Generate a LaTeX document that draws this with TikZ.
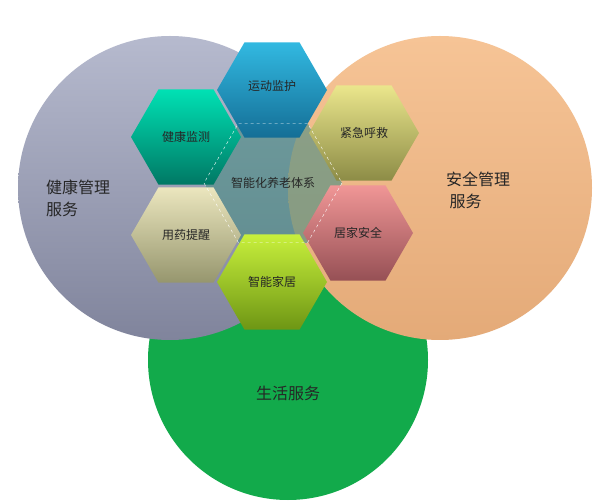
\documentclass[tikz,border=0pt]{standalone}
\usepackage{fontspec}
\setmainfont{Noto Sans CJK SC}
\usetikzlibrary{shapes.geometric}
\begin{document}
\begin{tikzpicture}[x=1pt,y=-1pt,
  hexa/.style={regular polygon,regular polygon sides=6,minimum size=110pt,inner sep=0pt,font=\fontsize{12}{14}\selectfont,text=black!85},
  big/.style={font=\fontsize{16}{22}\selectfont,text=black!85,align=left}]
\useasboundingbox (0,0) rectangle (600,502);
\fill[white] (0,0) rectangle (600,502);
\fill[fill={rgb,255:red,18;green,170;blue,75}] (288,360) circle (140pt);
\shade[top color={rgb,255:red,182;green,186;blue,206}, bottom color={rgb,255:red,128;green,132;blue,156}] (170,188) circle (152pt);
\shade[top color={rgb,255:red,246;green,196;blue,150}, bottom color={rgb,255:red,228;green,170;blue,120}] (440,188) circle (152pt);
\node[hexa,minimum size=138pt,fill={rgb,255:red,70;green,140;blue,130},fill opacity=0.6] (c) at (273,183) {};
\node[hexa,top color={rgb,255:red,50;green,185;blue,225},bottom color={rgb,255:red,20;green,110;blue,150}] (t) at (272,90) {};
\node at (272,86) [font=\fontsize{12}{14}\selectfont,text=black!85] {运动监护};
\node[hexa,top color={rgb,255:red,0;green,225;blue,180},bottom color={rgb,255:red,0;green,120;blue,100}] (hl) at (186,137) {健康监测};
\node[hexa,top color={rgb,255:red,235;green,230;blue,140},bottom color={rgb,255:red,140;green,140;blue,70}] (er) at (364,133) {紧急呼救};
\node[hexa,top color={rgb,255:red,235;green,230;blue,190},bottom color={rgb,255:red,150;green,150;blue,110}] (md) at (186,235) {用药提醒};
\node[hexa,top color={rgb,255:red,240;green,150;blue,150},bottom color={rgb,255:red,150;green,80;blue,85}] (hs) at (358,233) {居家安全};
\node[hexa,top color={rgb,255:red,200;green,240;blue,60},bottom color={rgb,255:red,110;green,150;blue,20}] (sh) at (272,282) {智能家居};
\node[hexa,minimum size=138pt,draw=white,dashed,thin] at (273,183) {};
\node at (273,183) [font=\fontsize{12}{14}\selectfont,text=black!85] {智能化养老体系};
\node[big] (l1) at (78,198) {健康管理\\服务};
\node[big] (r1) at (478,190) {安全管理\\\ 服务};
\node[big] (g1) at (288,393) {生活服务};
\end{tikzpicture}
\end{document}
